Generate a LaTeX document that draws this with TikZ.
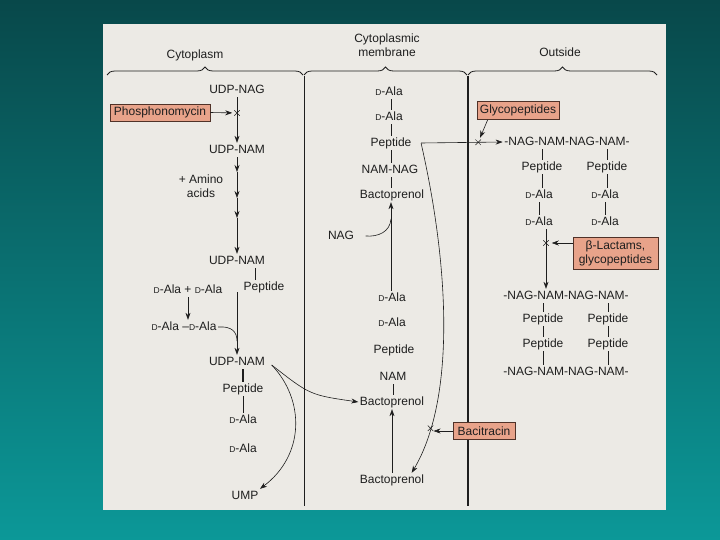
\documentclass[tikz,border=0pt]{standalone}
\usepackage{fontspec}
\setmainfont{Liberation Sans}
\usetikzlibrary{arrows.meta,decorations.pathreplacing,shapes.misc}
\definecolor{bgtop}{RGB}{8,72,74}
\definecolor{bgbot}{RGB}{12,152,152}
\definecolor{paper}{RGB}{236,234,229}
\definecolor{salmon}{RGB}{232,163,138}
\definecolor{ink}{RGB}{30,30,30}
\definecolor{boxline}{RGB}{80,50,40}
\newcommand{\Dala}{{\fontsize{8.5}{10}\selectfont D}-Ala}
\begin{document}
\begin{tikzpicture}[x=1pt,y=-1pt,
  txt/.style={font=\fontsize{12}{14}\selectfont, text=ink, inner sep=1.5pt},
  lbl/.style={txt, text height=8.6pt, text depth=2.4pt},
  drug/.style={txt, draw=boxline, fill=salmon, line width=0.6pt, inner xsep=3pt, inner ysep=2.5pt},
  conn/.style={draw=ink, line width=0.6pt},
  arr/.style={conn, -{Stealth[length=7pt,width=5pt]}},
  xmark/.style={cross out, draw=ink, line width=0.5pt, minimum size=5pt, inner sep=0pt},
  memb/.style={draw=ink, line width=0.7pt},
  brc/.style={draw=ink, line width=0.8pt, decorate, decoration={brace, amplitude=8pt}},
]
\useasboundingbox (0,0) rectangle (720,540);
\shade[top color=bgtop, bottom color=bgbot] (0,0) rectangle (720,540);
\fill[paper] (103,24) rectangle (666,510);

% header
\node[txt] (tcyto) at (195,55) {Cytoplasm};
\node[txt, align=center] (tmemb) at (387,45) {Cytoplasmic\\membrane};
\node[txt] (tout) at (560,52) {Outside};
\draw[brc] (107,75) -- (303,75);
\draw[brc] (304,75) -- (467,75);
\draw[brc] (468,75) -- (657,75);
\draw[memb] (304,76) -- (304,506);
\draw[memb, line width=1.1pt] (468,76) -- (468,506);

% ---------- cytoplasm column ----------
\node[lbl] (udpnag) at (237,90) {UDP-NAG};
\node[drug, minimum width=100pt, minimum height=17pt] (phos) at (160,112.5) {Phosphonomycin};
\node[xmark] (xp) at (237,113) {};
\node[lbl] (udpnam1) at (237,150) {UDP-NAM};
\coordinate (c1) at (237,172);
\coordinate (c2) at (237,198);
\coordinate (c3) at (237,218);
\node[txt, align=center] (amino) at (201,186) {+ Amino\\acids};
\node[lbl] (udpnam2) at (237,261) {UDP-NAM};
\node[lbl] (pep1) at (264,287) {Peptide};
\node[lbl] (dpair) at (188,290) {\Dala{} + \Dala};
\node[lbl] (dd) at (184,327) {\Dala{} –\Dala};
\coordinate (mj) at (237,341);
\node[lbl] (udpnam3) at (237,362) {UDP-NAM};
\node[lbl] (pep2) at (243,389) {Peptide};
\node[lbl] (dala3) at (243,420) {\Dala};
\node[lbl] (dala4) at (243,449) {\Dala};
\node[lbl] (ump) at (245,496) {UMP};

\draw[arr] (udpnag) -- (udpnam1);
\draw[arr, shorten >=2pt] (phos.east) -- (xp);
\draw[arr] (udpnam1) -- (c1);
\draw[arr] (c1) -- (c2);
\draw[arr] (c2) -- (c3);
\draw[arr] (c3) -- (udpnam2);
\draw[conn] ([xshift=18pt]udpnam2.south) -- ([xshift=-9pt]pep1.north);
\draw[arr] ([yshift=-24pt]udpnam2.south) -- (udpnam3);
\draw[arr] (dpair.south) -- (dpair.south |- dd.north);
\draw[conn] (dd.east) .. controls (232,326) and (237,332) .. (mj);
\draw[conn, line width=1.3pt] (udpnam3.south -| pep2.north) -- (pep2.north);
\draw[conn] (pep2) -- (dala3);

% ---------- membrane column ----------
\coordinate (vx) at (391,0);
\node[lbl] (m1) at (389,92) {\Dala};
\node[lbl] (m2) at (389,117) {\Dala};
\node[lbl] (mpep) at (391,143) {Peptide};
\node[lbl] (nn) at (390,170) {NAM-NAG};
\node[lbl] (bp1) at (392,195) {Bactoprenol};
\node[lbl] (nag) at (341,236) {NAG};
\coordinate (nagj) at (391,219);
\node[lbl] (m3) at (392,298) {\Dala};
\node[lbl] (m4) at (392,323) {\Dala};
\node[lbl] (mpep2) at (394,350) {Peptide};
\node[lbl] (nam) at (393,377) {NAM};
\node[lbl] (bp2) at (392,402) {Bactoprenol};
\node[lbl] (bp3) at (392,480) {Bactoprenol};

\draw[conn] (m1.south -| vx) -- (m2.north -| vx);
\draw[conn] (m2.south -| vx) -- (mpep.north -| vx);
\draw[conn] (mpep.south -| vx) -- (nn.north -| vx);
\draw[conn] (nn.south -| vx) -- (bp1.north -| vx);
\draw[arr] (m3.north -| vx) -- (bp1.south -| vx);
\draw[conn] ([xshift=10pt]nag.east) .. controls (378,237) and (390,232) .. (nagj);
\draw[conn] (nam.south) -- (nam.south |- bp2.north);
\draw[arr] (bp3.north) -- (bp3.north |- bp2.south);

% curves leaving UDP-NAM
\coordinate (u3e) at ([xshift=5pt,yshift=-3pt]udpnam3.east);
\draw[arr] (u3e) .. controls (305,400) and (305,455) .. (ump.north east);
\draw[arr] (u3e) .. controls (310,395) .. (bp2.west);

% ---------- outside column ----------
\node[drug, minimum width=82pt, minimum height=18pt] (glyco) at (518,110.5) {Glycopeptides};
\node[lbl] (chain1) at (567,142) {-NAG-NAM-NAG-NAM-};
\node[lbl] (p1) at (542,167) {Peptide};
\node[lbl] (p2) at (607,167) {Peptide};
\node[lbl] (a1) at (539,195) {\Dala};
\node[lbl] (a2) at (605,195) {\Dala};
\node[lbl] (a3) at (539,222) {\Dala};
\node[lbl] (a4) at (605,222) {\Dala};
\node[xmark] (xl) at (546,243) {};
\node[drug, align=center, minimum width=85pt, minimum height=32pt] (blact) at (615.5,253) {β-Lactams,\\glycopeptides};
\node[lbl] (chain2) at (566,296) {-NAG-NAM-NAG-NAM-};
\node[lbl] (p3) at (543,319) {Peptide};
\node[lbl] (p4) at (608,319) {Peptide};
\node[lbl] (p5) at (543,344) {Peptide};
\node[lbl] (p6) at (608,344) {Peptide};
\node[lbl] (chain3) at (566,372) {-NAG-NAM-NAG-NAM-};
\node[drug, minimum width=62pt, minimum height=17pt] (bacit) at (484,431) {Bacitracin};

% transfer to outside and recycling of bactoprenol
\coordinate (pc) at ([xshift=8pt]mpep.east);
\draw[arr] (pc) -- (chain1.west) node[xmark, pos=0.7] (xg) {};
\coordinate (bpt) at ([xshift=-14pt]bp3.north east);
\draw[arr] (pc) .. controls (450,270) and (455,400) .. (bpt) node[xmark, pos=0.82] (xb) {};
\draw[arr, shorten >=3pt] (bacit.west) -- (bacit.west -| xb);
\draw[arr, shorten >=2pt] ([xshift=11pt]glyco.south west) -- (xg);

\draw[conn] (chain1.south -| p1) -- (p1.north);
\draw[conn] (chain1.south -| p2) -- (p2.north);
\draw[conn] (p1.south) -- (p1.south |- a1.north);
\draw[conn, line width=1pt] (p2.south) -- (p2.south |- a2.north);
\draw[conn] (a1.south) -- (a1.south |- a3.north);
\draw[conn, line width=1pt] (a2.south) -- (a2.south |- a4.north);
\draw[arr] (a3.south -| xl) -- (chain2.north -| xl);
\draw[arr, shorten >=3pt] (blact.west |- xl) -- (xl);
\draw[conn] (chain2.south -| p3) -- (p3.north);
\draw[conn] (chain2.south -| p4) -- (p4.north);
\draw[conn] (p3.south) -- (p3.south |- p5.north);
\draw[conn] (p4.south) -- (p4.south |- p6.north);
\draw[conn] (p5.south) -- (p5.south |- chain3.north);
\draw[conn] (p6.south) -- (p6.south |- chain3.north);
\end{tikzpicture}
\end{document}
